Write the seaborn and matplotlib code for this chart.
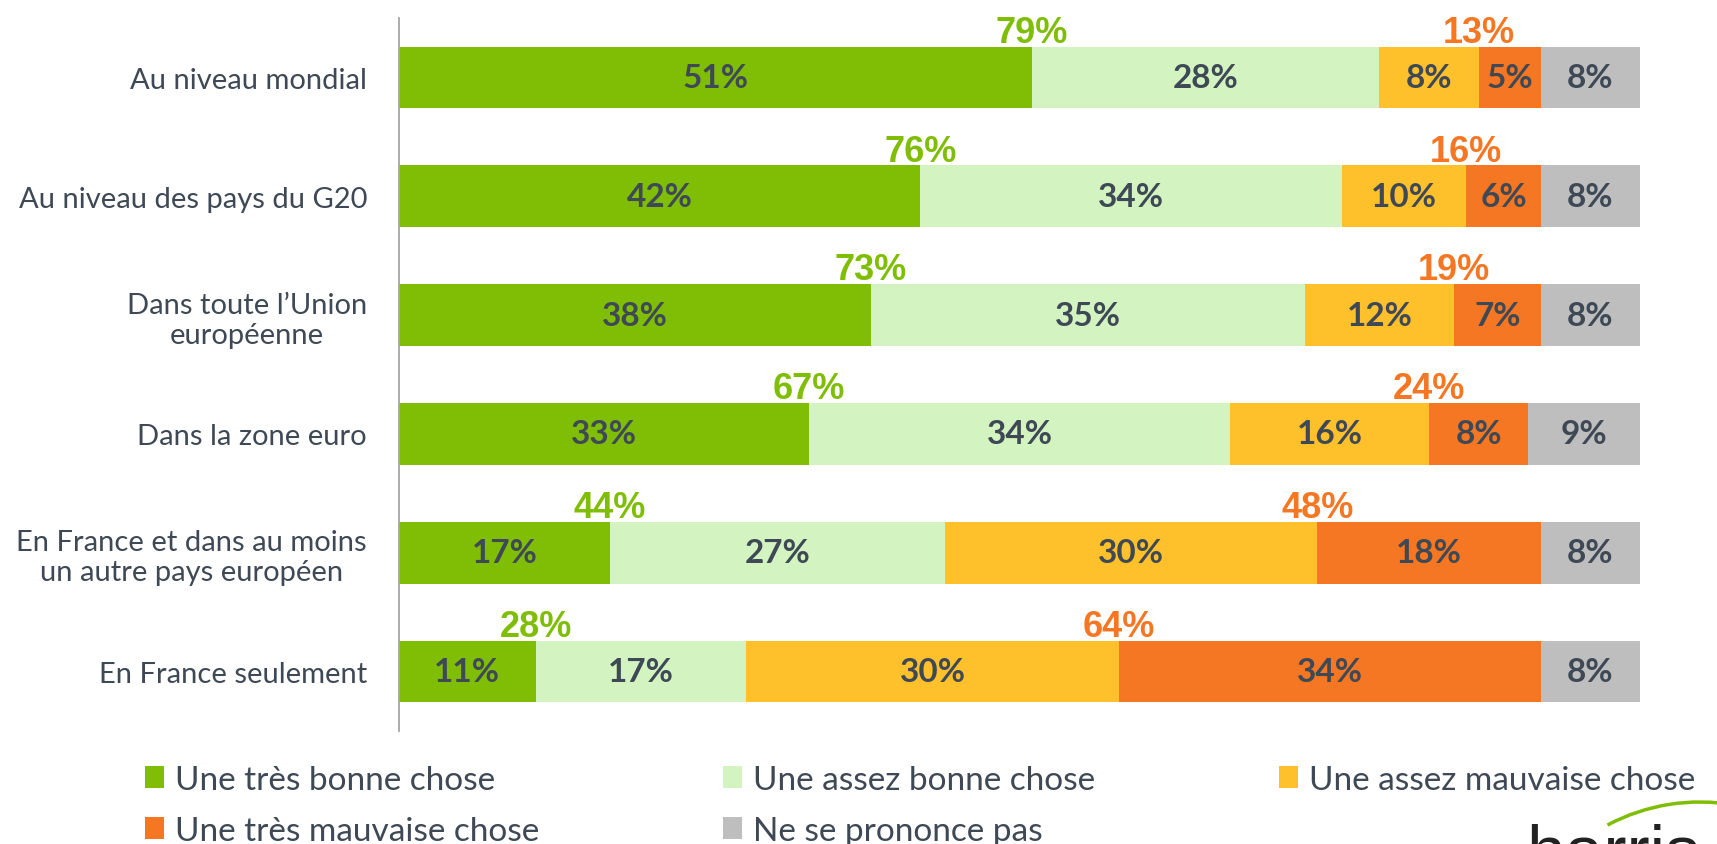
import seaborn as sns
import matplotlib.pyplot as plt
import pandas as pd
import numpy as np
from matplotlib.patches import Patch, Arc
from matplotlib.transforms import IdentityTransform

# Values (percent)
categories = ['Au niveau mondial', 'Au niveau des pays du G20',
              'Dans toute l\u2019Union\neuropéenne', 'Dans la zone euro',
              'En France et dans au moins\nun autre pays européen', 'En France seulement']
tres_bonne = [51, 42, 38, 33, 17, 11]
assez_bonne = [28, 34, 35, 34, 27, 17]
assez_mauvaise = [8, 10, 12, 16, 30, 30]
tres_mauvaise = [5, 6, 7, 8, 18, 34]
nsp = [8, 8, 8, 9, 8, 8]
total_bonne = [79, 76, 73, 67, 44, 28]
total_mauvaise = [13, 16, 19, 24, 48, 64]

series_names = ['Une très bonne chose', 'Une assez bonne chose', 'Une assez mauvaise chose',
                'Une très mauvaise chose', 'Ne se prononce pas']
colors = ['#7FBE05', '#D3F4C1', '#FFC12B', '#F57723', '#BEBEBE']
text_dark = '#3E4955'

df = pd.DataFrame({'cat': categories, series_names[0]: tres_bonne, series_names[1]: assez_bonne,
                   series_names[2]: assez_mauvaise, series_names[3]: tres_mauvaise,
                   series_names[4]: nsp})
cum = df[series_names].cumsum(axis=1)

sns.set_style('white')
plt.rcParams['font.family'] = ['Lato', 'DejaVu Sans']

fig = plt.figure(figsize=(17.17, 8.45), dpi=100)
ax = fig.add_axes([399 / 1717, 1 - 732 / 845, 1241 / 1717, 713 / 845])

# stacked bars: draw cumulative totals from the largest down
for name, col in reversed(list(zip(series_names, colors))):
    sns.barplot(x=cum[name], y=df['cat'], orient='h', color=col, width=0.52,
                saturation=1, ax=ax, linewidth=0)

# segment labels
for i in range(len(categories)):
    left = 0
    for name in series_names:
        v = df[name].iloc[i]
        ax.text(left + v / 2, i, f'{v}%', ha='center', va='center', fontsize=24,
                fontweight='bold', color=text_dark)
        left += v
    # totals above the bars
    ax.text(tres_bonne[i], i - 0.30, f'{total_bonne[i]}%', ha='center', va='baseline',
            fontsize=26, fontweight='bold', color='#7FBE05', family='Liberation Sans')
    b = tres_bonne[i] + assez_bonne[i] + assez_mauvaise[i]
    ax.text(b, i - 0.30, f'{total_mauvaise[i]}%', ha='center', va='baseline',
            fontsize=26, fontweight='bold', color='#F57723', family='Liberation Sans')

ax.set_xlim(0, 100)
ax.set_ylim(5.5, -0.5)
ax.set_xlabel('')
ax.set_ylabel('')
ax.set_xticks([])
for s in ['top', 'right', 'bottom']:
    ax.spines[s].set_visible(False)
ax.spines['left'].set_color('#A6A6A6')
ax.spines['left'].set_linewidth(1.3)
ax.tick_params(axis='y', which='major', length=0, pad=23, labelsize=21, labelcolor=text_dark)
for lab in ax.get_yticklabels():
    lab.set_multialignment('center')
ax.set_yticks(np.arange(-0.5, 6, 1), minor=True)
ax.tick_params(axis='y', which='minor', length=8, width=1.3, color='#A6A6A6', direction='out')

# legend filled row by row (matplotlib fills columns first)
order = [0, 3, 1, 4, 2]
handles = [Patch(facecolor=colors[k], edgecolor='none') for k in order]
labels = [series_names[k] for k in order]
fig.legend(handles, labels, loc='upper left', bbox_to_anchor=(145 / 1717, 1 - 766 / 845),
           ncol=3, frameon=False, fontsize=24, labelcolor=text_dark, handlelength=0.58,
           handleheight=0.65, handletextpad=0.33, columnspacing=5.5, labelspacing=0.62,
           borderaxespad=0, borderpad=0)

# logo fragment at bottom right
fig.text(1526 / 1717, 1 - 824 / 845, 'harris', fontsize=50, color='#222222', va='top',
         family='Liberation Sans')
fig.add_artist(Arc((1700, -155), 394, 394, theta1=80, theta2=118,
                   color='#7FBE05', lw=2.5, transform=IdentityTransform()))

fig.savefig('out.png', dpi=100)
